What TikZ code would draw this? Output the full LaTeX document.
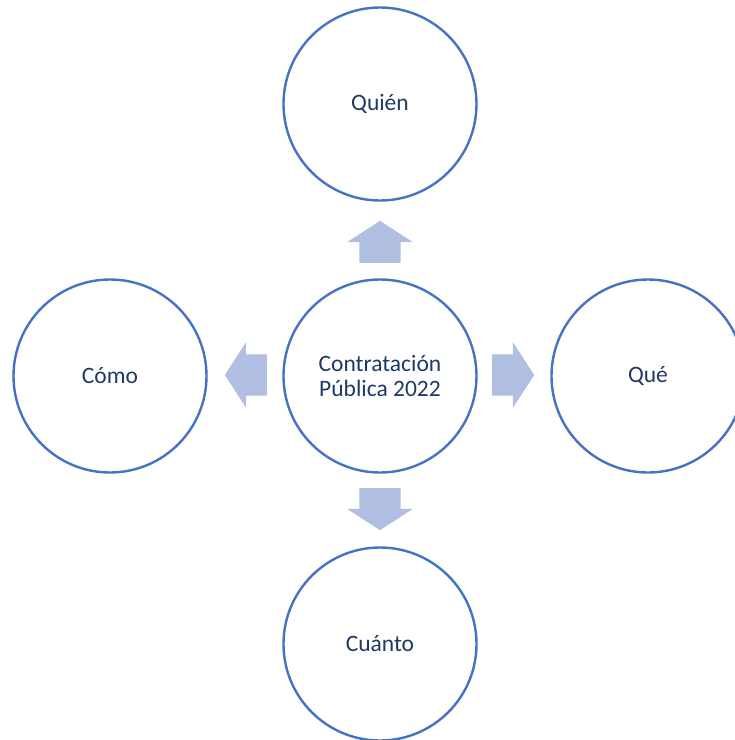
\documentclass[tikz,border=0pt]{standalone}
\usepackage{fontspec}
\setmainfont{Carlito}
\usetikzlibrary{shapes.arrows}

\definecolor{ringblue}{RGB}{68,114,196}
\definecolor{arrowfill}{RGB}{176,190,225}
\definecolor{textnavy}{RGB}{31,56,100}

\tikzset{
  topic/.style={circle,draw=ringblue,line width=2.4pt,minimum size=193pt,inner sep=0pt,
    align=center,text=textnavy,font=\fontsize{23.5}{25.5}\selectfont},
  blockarrow/.style={single arrow,fill=arrowfill,draw=none,inner xsep=0pt,inner ysep=20.5pt,
    minimum height=42pt,minimum width=65pt,single arrow head extend=12pt,
    single arrow tip angle=114,single arrow head indent=0pt,anchor=tail}
}

\begin{document}
\begin{tikzpicture}[x=1pt,y=-1pt]
\useasboundingbox (0,0) rectangle (735,740);
\clip (0,0) rectangle (735,740);

\node[topic] (center) at (380,376) {Contratación\\Pública 2022};
\node[topic] (quien) at (380,104) {Quién};
\node[topic] (como) at (110,376) {Cómo};
\node[topic] (que) at (648,376) {Qué};
\node[topic] (cuanto) at (380,644) {Cuánto};

\node[blockarrow,rotate=90] (up) at (380,263) {};
\node[blockarrow,rotate=180] (left) at (267,375) {};
\node[blockarrow] (right) at (492,375) {};
\node[blockarrow,rotate=270] (down) at (380,488) {};

\end{tikzpicture}
\end{document}
